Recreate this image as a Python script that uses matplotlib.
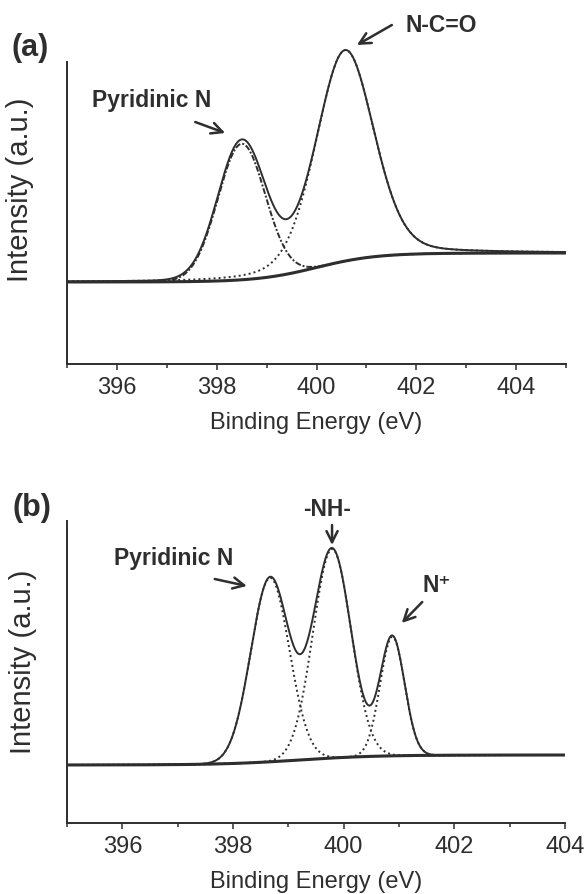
import numpy as np
import matplotlib.pyplot as plt

plt.rcParams['font.family'] = ['Liberation Sans', 'DejaVu Sans']

ink = '#2e2e2e'

# (a) N1s fit: centre (eV), height, FWHM (eV), Lorentzian fraction
a_names = ['Pyridinic N', 'N-C=O']
a_centre = [398.50, 400.57]
a_height = [136, 211]
a_fwhm = [1.12, 1.36]
a_lor = [0.0, 0.2]
a_bg = [82, 111]        # background at low / high binding energy
a_bg_step = [400.0, 0.6]  # middle and width of the background step (eV)

# (b)
b_names = ['Pyridinic N', '-NH-', 'N⁺']
b_centre = [398.67, 399.79, 400.88]
b_height = [184, 209, 119]
b_fwhm = [0.82, 0.81, 0.52]
b_lor = [0.0, 0.0, 0.0]
b_bg = [58, 68]
b_bg_step = [399.2, 0.7]

dots = (0, (1, 1.6))


def peak(x, c, h, fwhm, eta):
    u = (x - c) / (fwhm / 2)
    return h * ((1 - eta) * np.exp(-np.log(2) * u ** 2) + eta / (1 + u ** 2))


def draw_fit(ax, x, centre, height, fwhm, lor, bg, step, styles):
    comps = [peak(x, c, h, w, e) for c, h, w, e in zip(centre, height, fwhm, lor)]
    total = np.sum(comps, axis=0)
    base = bg[0] + (bg[1] - bg[0]) / (1 + np.exp(-(x - step[0]) / step[1]))
    for comp, ls in zip(comps, styles):
        ax.plot(x, base + comp, ls=ls, lw=1.4, color=ink)
    ax.plot(x, base, lw=2.2, color=ink)
    ax.plot(x, base + total, lw=1.4, color=ink)


def style_axes(ax, xmax):
    ax.set_xlim(395, xmax)
    ax.set_ylim(0, 340)
    for s in ['top', 'right']:
        ax.spines[s].set_visible(False)
    for s in ['left', 'bottom']:
        ax.spines[s].set_linewidth(1.4)
        ax.spines[s].set_color(ink)
    ax.spines['left'].set_bounds(0, 302)
    ax.set_yticks([])
    ax.set_xticks(np.arange(396, xmax + 0.1, 2))
    ax.set_xticks(np.arange(395, xmax + 0.1, 1), minor=True)
    ax.tick_params(axis='x', which='major', direction='out', length=4.5, width=1.1,
                   labelsize=17, pad=5, colors=ink)
    ax.tick_params(axis='x', which='minor', direction='out', length=3, width=1.1, colors=ink)
    ax.set_xlabel('Binding Energy (eV)', fontsize=17, color=ink, labelpad=9)
    ax.set_ylabel('Intensity (a.u.)', fontsize=21, color=ink)


def arrow(ax, tail, head):
    ax.annotate('', xy=head, xytext=tail,
                arrowprops=dict(arrowstyle='->', lw=1.8, color=ink,
                                mutation_scale=20, shrinkA=0, shrinkB=0))


fig = plt.figure(figsize=(5.85, 8.94), dpi=100)
W, H = 585, 894

# panel (a)
ax1 = fig.add_axes([67 / W, (H - 364) / H, 499 / W, 340 / H])
xa = np.linspace(395, 405, 2001)
draw_fit(ax1, xa, a_centre, a_height, a_fwhm, a_lor, a_bg, a_bg_step,
         [(0, (3, 1, 1, 1)), dots])
style_axes(ax1, 405)
ax1.yaxis.set_label_coords(-0.066, 0.512)
ax1.text(396.70, 263, a_names[0], ha='center', va='center', fontsize=16.5,
         fontweight='bold', color=ink)
arrow(ax1, (397.57, 242), (398.17, 231))
ax1.text(402.51, 339, a_names[1], ha='center', va='center', fontsize=16.5,
         fontweight='bold', color=ink)
arrow(ax1, (401.51, 339), (400.81, 319))

# panel (b)
ax2 = fig.add_axes([67 / W, (H - 823) / H, 498 / W, 340 / H])
xb = np.linspace(395, 404, 1801)
draw_fit(ax2, xb, b_centre, b_height, b_fwhm, b_lor, b_bg, b_bg_step, [dots] * 3)
style_axes(ax2, 404)
ax2.yaxis.set_label_coords(-0.060, 0.474)
ax2.text(396.93, 265, b_names[0], ha='center', va='center', fontsize=16.5,
         fontweight='bold', color=ink)
arrow(ax2, (397.67, 244), (398.25, 237))
ax2.text(399.70, 313, b_names[1], ha='center', va='center', fontsize=16.5,
         fontweight='bold', color=ink)
arrow(ax2, (399.79, 298), (399.79, 278))
ax2.text(401.68, 238, b_names[2], ha='center', va='center', fontsize=16.5,
         fontweight='bold', color=ink)
arrow(ax2, (401.42, 221), (401.05, 200))

fig.text(30 / W, 1 - 48 / H, '(a)', fontsize=22, fontweight='bold', color=ink,
         ha='center', va='center')
fig.text(32 / W, 1 - 508 / H, '(b)', fontsize=22, fontweight='bold', color=ink,
         ha='center', va='center')

fig.savefig('out.png', dpi=100, facecolor='white')
